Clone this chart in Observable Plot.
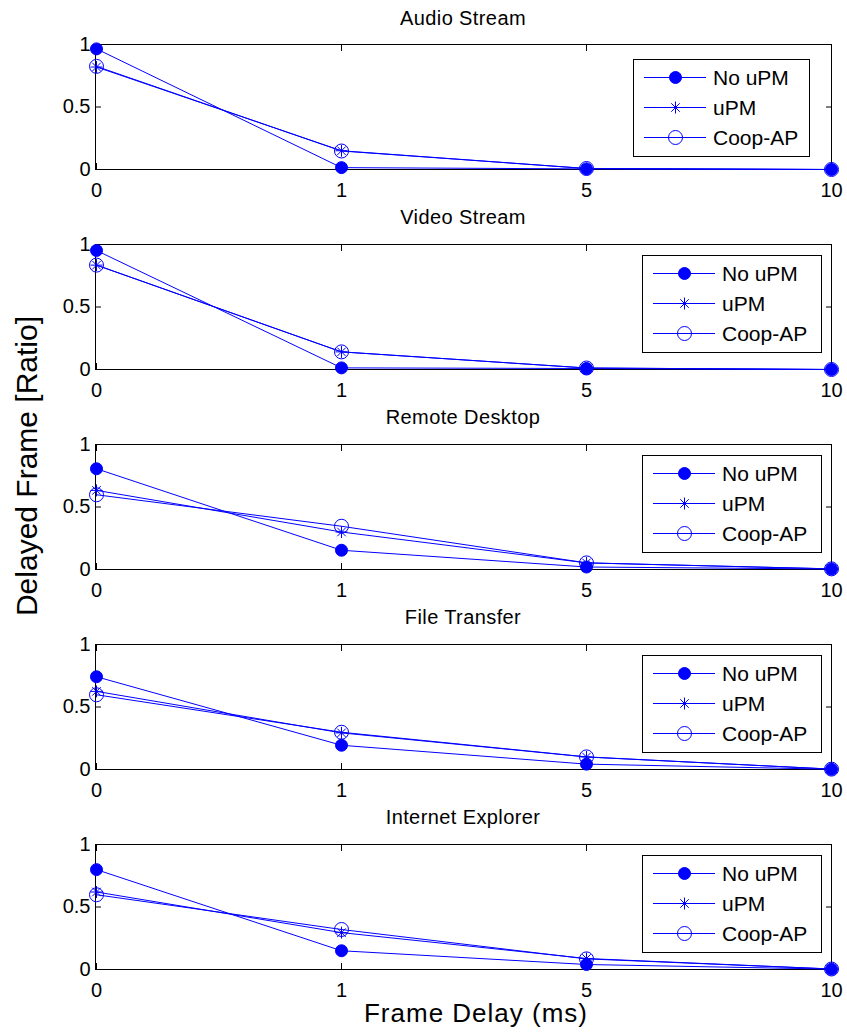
<!DOCTYPE html>
<html>
<head>
<meta charset="utf-8">
<script src="https://cdn.jsdelivr.net/npm/d3@7"></script>
<script src="https://cdn.jsdelivr.net/npm/@observablehq/plot@0.6"></script>
<style>
  body { margin: 0; background: #fff; }
  #fig { position: relative; width: 847px; height: 1036px; overflow: hidden; background: #fff;
         font-family: "Liberation Sans", Arial, Helvetica, sans-serif; color: #000; }
  .panel { position: absolute; left: 0; width: 847px; height: 200px; }
  .title { position: absolute; left: 95px; width: 736px; text-align: center; font-size: 20px;
           line-height: 24px; letter-spacing: 0.4px; }
  .legend { position: absolute; }
  #ylab { position: absolute; left: 27px; top: 466px; transform: translate(-50%, -50%) rotate(-90deg);
          font-size: 30px; white-space: nowrap; line-height: 34px; }
  #xlab { position: absolute; left: 476px; top: 998px; transform: translateX(-50%);
          font-size: 26px; letter-spacing: 1px; white-space: nowrap; line-height: 30px; }
</style>
</head>
<body>
<div id="fig"></div>
<script>
// ---------- data ----------
const delays = ["0", "1", "5", "10"];
const yTicks = [0, 0.5, 1];
const panelTitles = ["Audio Stream", "Video Stream", "Remote Desktop", "File Transfer", "Internet Explorer"];
const seriesNames = ["No uPM", "uPM", "Coop-AP"];
const noUpm = [
  [0.965, 0.015, 0.005, 0.0],
  [0.952, 0.013, 0.008, 0.0],
  [0.806, 0.154, 0.020, 0.004],
  [0.742, 0.194, 0.043, 0.002],
  [0.799, 0.150, 0.040, 0.003]
];
const uPm = [
  [0.820, 0.150, 0.008, 0.0],
  [0.835, 0.141, 0.012, 0.0],
  [0.633, 0.300, 0.053, 0.005],
  [0.625, 0.293, 0.100, 0.003],
  [0.620, 0.295, 0.088, 0.004]
];
const coopAp = [
  [0.825, 0.148, 0.008, 0.0],
  [0.835, 0.141, 0.012, 0.0],
  [0.598, 0.346, 0.053, 0.005],
  [0.598, 0.298, 0.101, 0.003],
  [0.598, 0.320, 0.085, 0.004]
];
const yLabel = "Delayed Frame [Ratio]";
const xLabel = "Frame Delay (ms)";

// ---------- styling ----------
const BLUE = "#0000ff";
const FONT = '"Liberation Sans", Arial, Helvetica, sans-serif';

// MATLAB-like 8-spoke asterisk
const asterisk = {
  draw(ctx, size) {
    const r = Math.sqrt(size / Math.PI);
    const d = r * Math.SQRT1_2;
    ctx.moveTo(-r, 0); ctx.lineTo(r, 0);
    ctx.moveTo(0, -r); ctx.lineTo(0, r);
    ctx.moveTo(-d, -d); ctx.lineTo(d, d);
    ctx.moveTo(-d, d); ctx.lineTo(d, -d);
  }
};

const fig = document.getElementById("fig");
const seriesValues = [noUpm, uPm, coopAp];
const legendLeft = [633, 642, 642, 642, 642];
const legendWidth = [176, 179, 179, 179, 179];

panelTitles.forEach((title, i) => {
  const rows = [];
  seriesNames.forEach((s, k) => {
    delays.forEach((d, j) => rows.push({series: s, delay: d, value: seriesValues[k][i][j]}));
  });
  const bySeries = s => rows.filter(r => r.series === s);

  const panel = document.createElement("div");
  panel.className = "panel";
  panel.style.top = (i * 200) + "px";

  const t = document.createElement("div");
  t.className = "title";
  t.style.top = (6 - (i > 0 ? 1 : 0)) + "px";
  t.textContent = title;
  panel.appendChild(t);

  const chart = Plot.plot({
    width: 847, height: 200,
    marginLeft: 95, marginRight: 16, marginTop: 44, marginBottom: 31,
    style: {fontFamily: FONT, fontSize: "20px", color: "#000", background: "transparent", overflow: "visible"},
    x: {type: "point", domain: delays, padding: 0, label: null},
    y: {domain: [0, 1], ticks: yTicks, label: null},
    marks: [
      Plot.frame({stroke: "#000", strokeWidth: 1}),
      Plot.axisX({anchor: "bottom", tickSize: 0, tickPadding: 13, label: null, fontSize: 20}),
      Plot.axisX({anchor: "bottom", tickSize: -6, tickFormat: () => "", label: null}),
      Plot.axisX({anchor: "top", tickSize: -6, tickFormat: () => "", label: null}),
      Plot.axisY({anchor: "left", ticks: yTicks, tickSize: 0, tickPadding: 5, label: null, fontSize: 20,
                  tickFormat: d => String(d)}),
      Plot.axisY({anchor: "left", ticks: yTicks, tickSize: -6, tickFormat: () => "", label: null}),
      Plot.axisY({anchor: "right", ticks: yTicks, tickSize: -6, tickFormat: () => "", label: null}),
      Plot.line(rows, {x: "delay", y: "value", z: "series", stroke: BLUE, strokeWidth: 1}),
      Plot.dot(bySeries("No uPM"), {x: "delay", y: "value", r: 6, fill: BLUE, stroke: BLUE, strokeWidth: 1}),
      Plot.dot(bySeries("uPM"), {x: "delay", y: "value", r: 6, symbol: asterisk, fill: "none", stroke: BLUE, strokeWidth: 1}),
      Plot.dot(bySeries("Coop-AP"), {x: "delay", y: "value", r: 7, fill: "none", stroke: BLUE, strokeWidth: 1})
    ]
  });
  chart.style.position = "absolute";
  chart.style.left = "0px";
  chart.style.top = "0px";
  panel.appendChild(chart);

  // legend
  const lw = legendWidth[i], lh = 97;
  const leg = d3.create("svg")
    .attr("class", "legend")
    .attr("width", lw + 1).attr("height", lh + 1)
    .style("left", legendLeft[i] + "px")
    .style("top", (i === 0 ? 59 : 55) + "px")
    .style("font-family", FONT);
  leg.append("rect").attr("x", 0.5).attr("y", 0.5).attr("width", lw).attr("height", lh)
    .attr("fill", "#fff").attr("stroke", "#000");
  const rowY = [18.5, 48.5, 78.5];
  seriesNames.forEach((s, k) => {
    const g = leg.append("g").attr("transform", `translate(0,${rowY[k]})`);
    g.append("line").attr("x1", 11).attr("x2", 73).attr("y1", 0).attr("y2", 0)
      .attr("stroke", BLUE).attr("stroke-width", 1);
    const cx = 42.5;
    if (k === 0) {
      g.append("circle").attr("cx", cx).attr("r", 6).attr("fill", BLUE).attr("stroke", BLUE);
    } else if (k === 1) {
      g.append("path").attr("transform", `translate(${cx},0)`)
        .attr("d", d3.symbol(asterisk, Math.PI * 36)()).attr("fill", "none").attr("stroke", BLUE);
    } else {
      g.append("circle").attr("cx", cx).attr("r", 7).attr("fill", "none").attr("stroke", BLUE);
    }
    g.append("text").attr("x", 80).attr("y", 0).attr("dy", "0.36em")
      .attr("font-size", 21).attr("fill", "#000").text(s);
  });
  panel.appendChild(leg.node());

  fig.appendChild(panel);
});

const yl = document.createElement("div");
yl.id = "ylab"; yl.textContent = yLabel;
fig.appendChild(yl);
const xl = document.createElement("div");
xl.id = "xlab"; xl.textContent = xLabel;
fig.appendChild(xl);
</script>
</body>
</html>
